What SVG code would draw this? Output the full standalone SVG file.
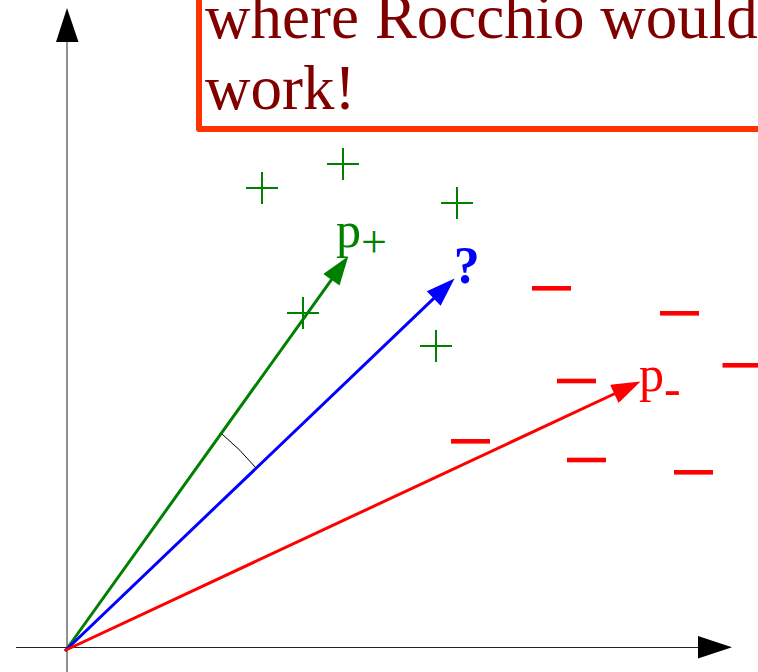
<svg xmlns="http://www.w3.org/2000/svg" width="758" height="672" viewBox="0 0 758 672">
  <style>
    .axis { stroke: #222; stroke-width: 1; fill: none; }
    .vec { stroke-width: 3; fill: none; stroke-linecap: round; }
    .plus { stroke: #008000; stroke-width: 2; fill: none; }
    .minus { fill: #ff0000; }
    .serif { font-family: "Liberation Serif", "Times New Roman", serif; }
    .title { fill: #800000; font-size: 63px; }
  </style>
  <defs>
    <marker id="ah-green" markerUnits="userSpaceOnUse" markerWidth="30" markerHeight="20" refX="6" refY="9" orient="auto" viewBox="0 0 26 18">
      <path d="M0,0 L26,9 L0,18 z" fill="#008000"/>
    </marker>
    <marker id="ah-blue" markerUnits="userSpaceOnUse" markerWidth="30" markerHeight="20" refX="6" refY="9" orient="auto" viewBox="0 0 26 18">
      <path d="M0,0 L26,9 L0,18 z" fill="#0000ff"/>
    </marker>
    <marker id="ah-red" markerUnits="userSpaceOnUse" markerWidth="30" markerHeight="20" refX="6" refY="9" orient="auto" viewBox="0 0 26 18">
      <path d="M0,0 L26,9 L0,18 z" fill="#ff0000"/>
    </marker>
    <path id="plusSign" d="M-16,0 H16 M0,-16 V16"/>
    <rect id="minusSign" x="-19.5" y="-2.3" width="39" height="4.6"/>
  </defs>

  <g id="axes">
    <line class="axis" x1="67" y1="672" x2="67" y2="40"/>
    <polygon points="67,8 56,42 78.5,42" fill="#000"/>
    <line class="axis" x1="16" y1="647.5" x2="700" y2="647.5"/>
    <polygon points="732,647.3 698,636 698,658.5" fill="#000"/>
  </g>

  <g id="title-box">
    <rect x="199" y="-60" width="620" height="189" fill="none" stroke="#ff3300" stroke-width="6" stroke-linejoin="round"/>
    <text class="serif title" x="205" y="38">where Rocchio would</text>
    <text class="serif title" x="205" y="109">work!</text>
  </g>

  <g id="positive-points" class="plus">
    <use href="#plusSign" x="262" y="188"/>
    <use href="#plusSign" x="343" y="164"/>
    <use href="#plusSign" x="457" y="203"/>
    <use href="#plusSign" x="303" y="313"/>
    <use href="#plusSign" x="436" y="346"/>
  </g>

  <g id="negative-points" class="minus">
    <use href="#minusSign" x="551.5" y="288.3"/>
    <use href="#minusSign" x="679.5" y="313.3"/>
    <use href="#minusSign" x="742" y="365.3"/>
    <use href="#minusSign" x="576.5" y="381"/>
    <use href="#minusSign" x="470.5" y="441.3"/>
    <use href="#minusSign" x="586.5" y="460"/>
    <use href="#minusSign" x="693.5" y="472.3"/>
  </g>

  <g id="connectors">
    <line id="vec-pplus" class="vec" stroke="#008000" x1="66" y1="650" x2="335.3" y2="274.3" marker-end="url(#ah-green)"/>
    <line id="vec-query" class="vec" stroke="#0000ff" x1="66" y1="650" x2="438.5" y2="293.8" marker-end="url(#ah-blue)"/>
    <line id="vec-pminus" class="vec" stroke="#ff0000" x1="66" y1="650" x2="620.4" y2="391" marker-end="url(#ah-red)"/>
    <path id="angle-arc" d="M222,434 A265,265 0 0 1 256,468" fill="none" stroke="#000" stroke-width="1"/>
  </g>

  <g id="label-pplus">
    <text class="serif" fill="#008000" font-size="50" x="336" y="247">p<tspan font-size="46" y="256.6">+</tspan></text>
  </g>
  <g id="label-query">
    <text class="serif" fill="#0000ff" font-size="52" font-weight="bold" x="453.7" y="283">?</text>
  </g>
  <g id="label-pminus">
    <text class="serif" fill="#ff0000" font-size="50" x="639" y="391">p<tspan y="404.6">-</tspan></text>
  </g>
</svg>
